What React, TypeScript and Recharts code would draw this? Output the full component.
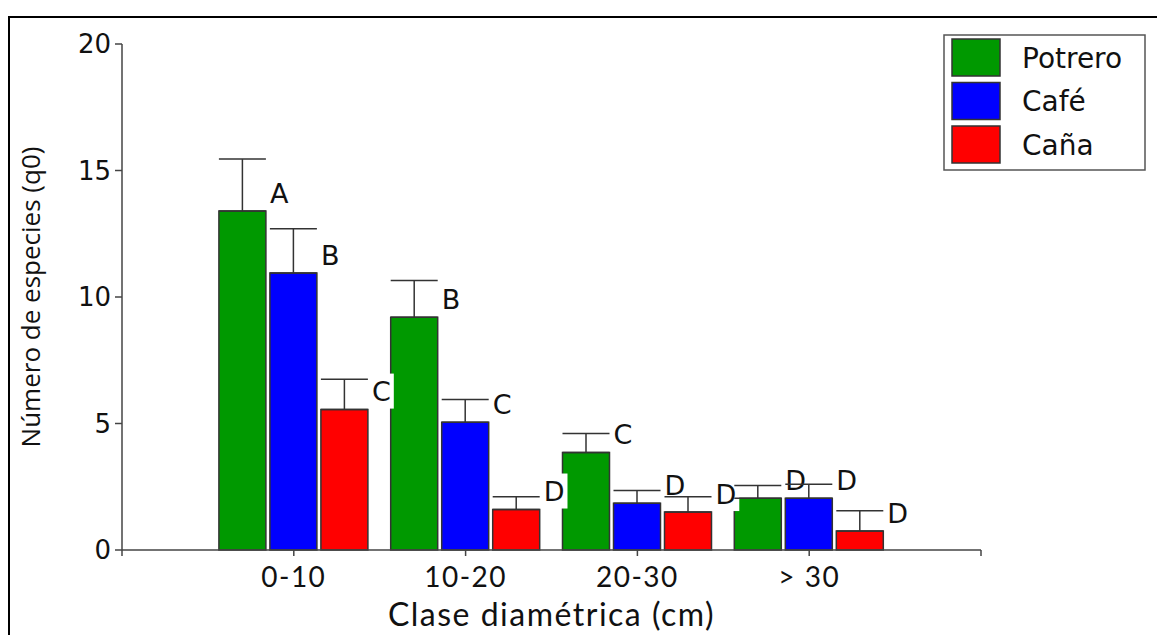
import React from 'react'
import { BarChart, Bar, XAxis, YAxis, ErrorBar, Legend } from 'recharts'

// diameter classes and species counts (mean, standard error) per land use
const classes = ['0-10', '10-20', '20-30', '> 30']
const potrero = [13.4, 9.2, 3.85, 2.05]
const potreroSE = [2.05, 1.45, 0.75, 0.5]
const cafe = [10.95, 5.05, 1.85, 2.05]
const cafeSE = [1.75, 0.9, 0.5, 0.55]
const cana = [5.55, 1.6, 1.5, 0.75]
const canaSE = [1.2, 0.5, 0.6, 0.8]
// significance groups
const potreroTags = ['A', 'B', 'C', 'D']
const cafeTags = ['B', 'C', 'D', 'D']
const canaTags = ['C', 'D', 'D', 'D']
const yTicks = [0, 5, 10, 15, 20]

const series = [
  { key: 'potrero', name: 'Potrero', color: '#009900' },
  { key: 'cafe', name: 'Café', color: '#0000ff' },
  { key: 'cana', name: 'Caña', color: '#ff0000' },
]

// slots 1..4 on a 0..5 axis, so the frame ticks sit on the outer edges
const rows = classes.map((clase, i) => ({
  slot: i + 1,
  clase,
  potrero: potrero[i],
  potreroErr: [0, potreroSE[i]],
  potreroTag: potreroTags[i],
  cafe: cafe[i],
  cafeErr: [0, cafeSE[i]],
  cafeTag: cafeTags[i],
  cana: cana[i],
  canaErr: [0, canaSE[i]],
  canaTag: canaTags[i],
}))

const slotTicks = [0, 1, 2, 3, 4, 5]
const BAR = 47
const INK = '#111'
const AXIS = '#444'
const TAG_FONT = 27
const tagAdvance: Record<string, number> = { A: 0.68, B: 0.69, C: 0.7, D: 0.77 }

// letter with a white box, placed just right of the bar top
function tagShape(tagKey: string) {
  return (props: any) => {
    const { x, y, width, payload } = props
    const letter: string = payload[tagKey]
    const tx = x + width + 4
    const cy = y - 18
    const w = (tagAdvance[letter] ?? 0.72) * TAG_FONT
    return (
      <g>
        <rect x={tx - 1} y={cy - 18} width={w + 4} height={35} fill="#fff" />
        <text x={tx} y={cy} dy="0.36em" fontFamily="DejaVu Sans" fontSize={TAG_FONT} fill={INK}>
          {letter}
        </text>
      </g>
    )
  }
}

function LegendBox() {
  return (
    <svg width={204} height={138}>
      <rect x={1} y={1} width={201} height={135} fill="#fff" stroke="#555" strokeWidth={1.5} />
      {series.map((s, i) => (
        <g key={s.key}>
          <rect x={9} y={5 + i * 43.5} width={48} height={37} fill={s.color} stroke="#333" strokeWidth={1.5} />
          <text x={79} y={23.5 + i * 43.5} dy="0.36em" fontFamily="DejaVu Sans" fontSize={28} fill={INK}>
            {s.name}
          </text>
        </g>
      ))}
    </svg>
  )
}

export default function App() {
  return (
    <div
      style={{
        position: 'absolute',
        left: 8,
        top: 16,
        width: 1149,
        height: 619,
        borderTop: '2px solid #000',
        borderLeft: '2px solid #000',
        boxSizing: 'border-box',
        background: '#fff',
      }}
    >
      <BarChart
        width={1147}
        height={617}
        data={rows}
        margin={{ top: 26, right: 176, bottom: 0, left: 0 }}
        barGap={4}
      >
        <XAxis
          type="number"
          dataKey="slot"
          domain={[0, 5]}
          ticks={slotTicks}
          interval={0}
          tickFormatter={(v: number) => classes[v - 1] ?? ''}
          tickSize={6}
          tickMargin={11}
          height={85}
          stroke={AXIS}
          strokeWidth={1.5}
          tick={{ fill: INK, fontSize: 28, fontFamily: 'Lato', letterSpacing: 1.5 }}
          label={{
            value: 'Clase diamétrica (cm)',
            position: 'insideBottom',
            offset: 9,
            fill: INK,
            fontSize: 32,
            fontFamily: 'Lato',
            letterSpacing: 1.5,
          }}
        />
        <XAxis xAxisId="tags" type="number" dataKey="slot" domain={[0, 5]} hide />
        <YAxis
          type="number"
          domain={[0, 20]}
          ticks={yTicks}
          interval={0}
          width={112}
          tickSize={7}
          tickMargin={4}
          stroke={AXIS}
          strokeWidth={1.5}
          tick={{ fill: INK, fontSize: 26, fontFamily: 'DejaVu Sans' }}
          label={{
            value: 'Número de especies (q0)',
            angle: -90,
            position: 'insideLeft',
            offset: 21,
            fill: INK,
            fontSize: 26,
            fontFamily: 'Open Sans',
            style: { textAnchor: 'middle' },
          }}
        />
        <Legend
          layout="vertical"
          align="center"
          verticalAlign="middle"
          content={<LegendBox />}
          wrapperStyle={{ top: 16, left: 933, width: 204, height: 138 }}
        />
        {series.map((s) => (
          <Bar
            key={s.key}
            dataKey={s.key}
            name={s.name}
            fill={s.color}
            stroke="#333"
            strokeWidth={1.5}
            barSize={BAR}
            isAnimationActive={false}
          >
            <ErrorBar
              dataKey={`${s.key}Err`}
              direction="y"
              width={BAR / 2}
              stroke="#333"
              strokeWidth={1.5}
              isAnimationActive={false}
            />
          </Bar>
        ))}
        {series.map((s) => (
          <Bar
            key={`${s.key}-tag`}
            xAxisId="tags"
            dataKey={s.key}
            barSize={BAR}
            legendType="none"
            shape={tagShape(`${s.key}Tag`)}
            isAnimationActive={false}
          />
        ))}
      </BarChart>
    </div>
  )
}
